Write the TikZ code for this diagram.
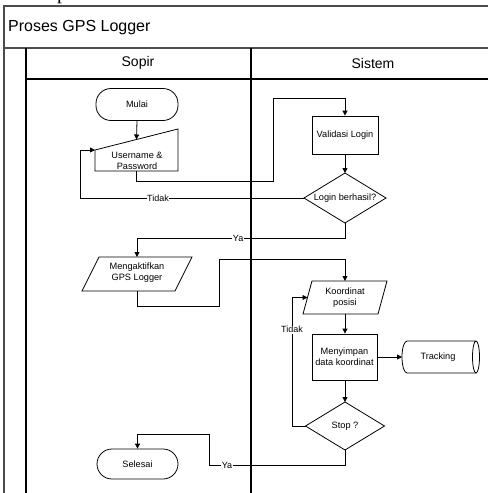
\documentclass[tikz,border=0pt]{standalone}
\usepackage{fontspec}
\setmainfont{Liberation Sans}
\newfontfamily\serifp{Liberation Serif}
\usetikzlibrary{arrows.meta,calc}
\begin{document}
\begin{tikzpicture}[x=1pt,y=-1pt,
  flow/.style={line width=0.8pt,-{Triangle[length=5pt,width=5pt]}},
  plain/.style={line width=0.8pt},
  lane/.style={line width=1.5pt},
  border/.style={line width=1.3pt,black!70},
  txt/.style={font=\fontsize{9.2}{11}\selectfont,align=center,inner sep=1pt},
  term/.style={draw,line width=0.8pt,rectangle,rounded corners=15pt,txt},
  proc/.style={draw,line width=0.8pt,rectangle,txt},
  ghost/.style={inner sep=0pt,outer sep=0pt},
  elbl/.style={fill=white,font=\fontsize{9}{10}\selectfont,inner sep=0.6pt},
]
\useasboundingbox (0,0) rectangle (488,493);
% cut-off fragment of text above the frame
\node[ghost,anchor=base west,font=\serifp\fontsize{20}{20}\selectfont] (frag) at (57,-0.3) {p};

% frame and lanes
\draw[border] (4,493) -- (4,6) -- (488,6);
\draw[border] (4,48) -- (488,48);
\draw[lane] (26,79) -- (488,79);
\draw[lane] (26,48) -- (26,493);
\draw[lane] (251,48) -- (251,493);
\node[anchor=west,inner sep=0pt,font=\fontsize{16}{18}\selectfont] (title) at (8,28) {Proses GPS Logger};
\node[font=\fontsize{14}{16}\selectfont] (sopir) at (138,63) {Sopir};
\node[font=\fontsize{14}{16}\selectfont] (sistem) at (373,63) {Sistem};

% Sopir lane
\node[term,minimum width=82pt,minimum height=32pt] (mulai) at (137,104.5) {Mulai};
\node[ghost,minimum width=83pt,minimum height=42pt] (user) at (136.5,150) {};
\draw[line width=0.8pt] (user.west) -- (user.north east) -- (user.south east) -- (user.south west) -- cycle;
\node[txt] (usertxt) at (137,160.5) {Username \&\\Password};
\coordinate (utop) at ($(user.west)!0.5!(user.north east)$);

\node[ghost,minimum width=93pt,minimum height=34pt] (gps) at (137,274) {};
\draw[line width=0.8pt] ([xshift=8.5pt]gps.north west) -- ([xshift=8.5pt]gps.north east) -- ([xshift=-8.5pt]gps.south east) -- ([xshift=-8.5pt]gps.south west) -- cycle;
\node[txt] (gpstxt) at (137,273) {Mengaktifkan\\GPS Logger};

\node[term,minimum width=81pt,minimum height=30pt] (selesai) at (137.5,464) {Selesai};

% Sistem lane
\node[proc,minimum width=66pt,minimum height=38pt] (val) at (345,135) {Validasi Login};
\node[ghost,minimum width=82pt,minimum height=50pt] (login) at (345,198) {};
\draw[line width=0.8pt] (login.north) -- (login.east) -- (login.south) -- (login.west) -- cycle;
\node[txt] (logintxt) at (345,198) {Login berhasil?};

\node[ghost,minimum width=75pt,minimum height=33pt] (koor) at (345,297.5) {};
\draw[line width=0.8pt] ([xshift=4.5pt]koor.north west) -- ([xshift=4.5pt]koor.north east) -- ([xshift=-4.5pt]koor.south east) -- ([xshift=-4.5pt]koor.south west) -- cycle;
\node[txt] (koortxt) at (345,297.5) {Koordinat\\posisi};

\node[proc,minimum width=65pt,minimum height=46pt] (simpan) at (344.5,357) {Menyimpan\\data koordinat};

\node[ghost,minimum width=78pt,minimum height=32pt] (trk) at (441,357) {};
\draw[line width=0.8pt] ([xshift=5pt]trk.north west) -- ([xshift=-4pt]trk.north east)
  arc[start angle=90,end angle=-270,x radius=3.5pt,y radius=16pt];
\draw[line width=0.8pt] ([xshift=-4pt]trk.south east) -- ([xshift=5pt]trk.south west)
  arc[start angle=-90,end angle=-270,x radius=5pt,y radius=16pt];
\node[txt] (trktxt) at (438,357) {Tracking};

\node[ghost,minimum width=79pt,minimum height=48pt] (stop) at (345,426) {};
\draw[line width=0.8pt] (stop.north) -- (stop.east) -- (stop.south) -- (stop.west) -- cycle;
\node[txt] (stoptxt) at (345,426) {Stop ?};

% connectors
\draw[flow] (mulai.south) -- (utop);
\draw[flow] (user.south) |- (273,181) |- (345,98) -- (val.north);
\draw[flow] (val.south) -- (login.north);
\draw[flow] (login.west) -- node[elbl,pos=0.652] {Tidak} (80,198) |- (user.west);
\draw[flow] (login.south) |- node[elbl,pos=0.757] {Ya} (137,238) -- (gps.north);
\draw[flow] (gps.south) |- (219,306) |- (345,259) -- (koor.north);
\draw[flow] (koor.south) -- (simpan.north -| koor.south);
\draw[flow] (simpan.east) -- (trk.west);
\draw[flow] (simpan.south -| stop.north) -- (stop.north);
\draw[flow] (stop.west) -- (292,426) -- node[elbl,pos=0.75] {Tidak} (292,297.5) -- (koor.west);
\draw[flow] (stop.south) |- node[elbl,pos=0.934] {Ya} (209,465) |- (137.5,434) -- (selesai.north);
\end{tikzpicture}
\end{document}
